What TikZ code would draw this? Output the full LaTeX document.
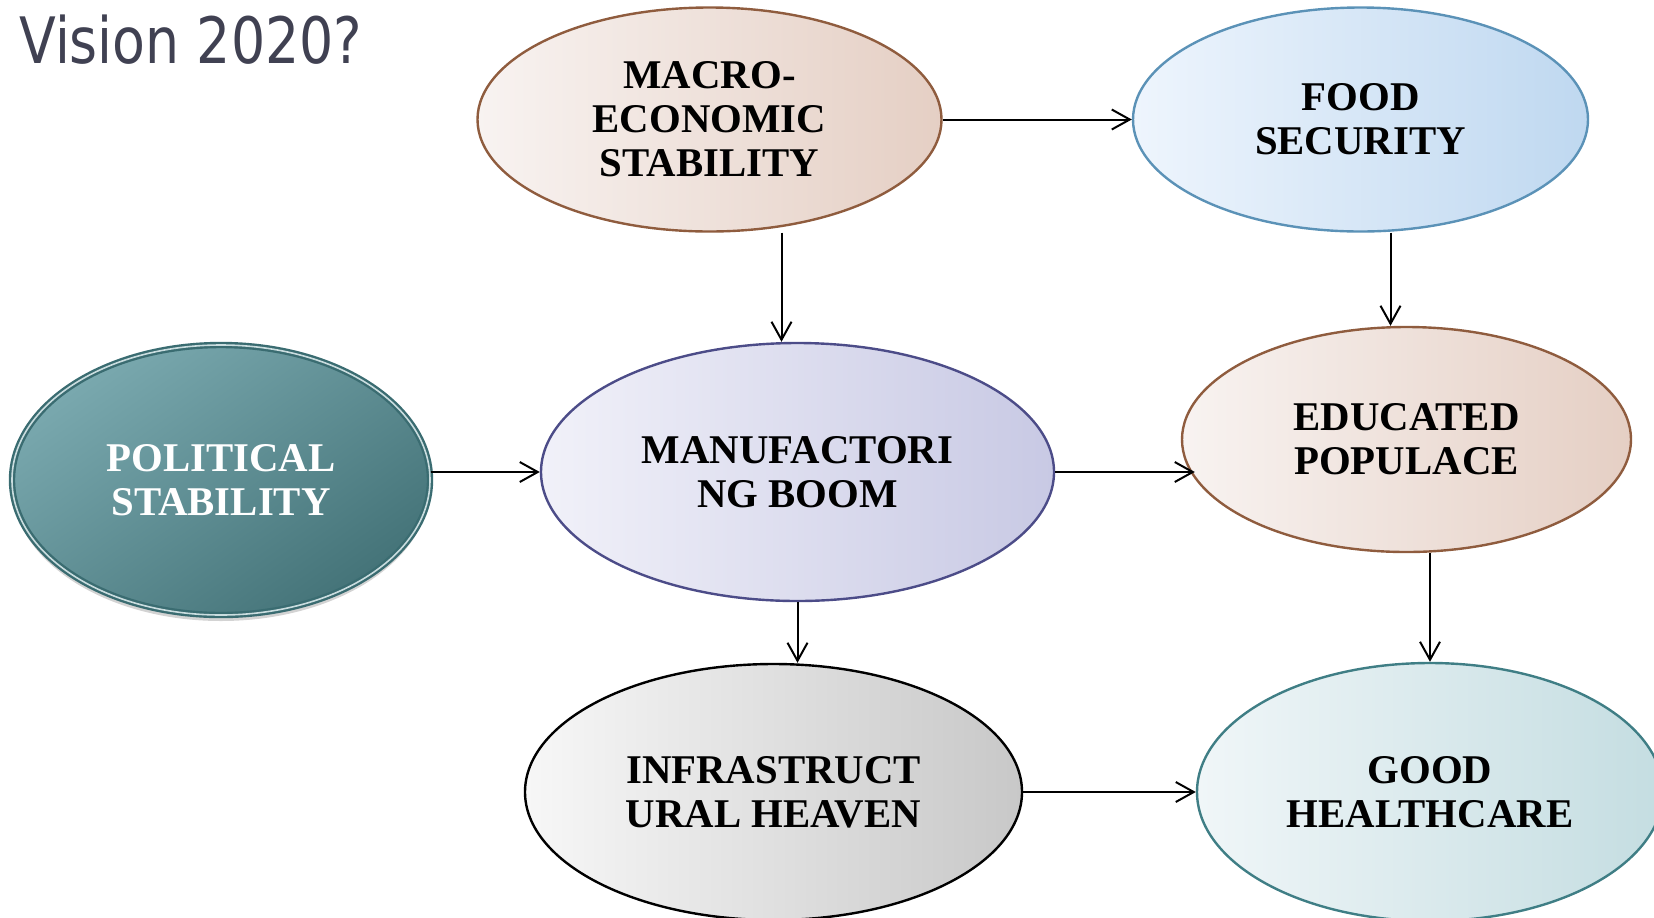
\documentclass[tikz,border=0pt]{standalone}
\usepackage{fontspec}
\setmainfont{Liberation Serif}
\newfontfamily\titlefont{DejaVu Sans}
\usetikzlibrary{shapes.geometric,arrows.meta,shadows}

\definecolor{titlegray}{RGB}{64,65,82}
\definecolor{macroL}{RGB}{248,243,241}
\definecolor{macroR}{RGB}{229,207,196}
\definecolor{macroB}{RGB}{143,92,62}
\definecolor{foodL}{RGB}{238,245,253}
\definecolor{foodR}{RGB}{191,216,240}
\definecolor{foodB}{RGB}{91,146,183}
\definecolor{manufL}{RGB}{241,241,249}
\definecolor{manufR}{RGB}{200,201,228}
\definecolor{manufB}{RGB}{76,76,136}
\definecolor{infraL}{RGB}{247,247,247}
\definecolor{infraR}{RGB}{200,200,200}
\definecolor{goodL}{RGB}{240,246,248}
\definecolor{goodR}{RGB}{196,221,225}
\definecolor{goodB}{RGB}{63,126,133}
\definecolor{politL}{RGB}{122,169,175}
\definecolor{politD}{RGB}{68,115,120}
\definecolor{politB}{RGB}{58,108,113}

\begin{document}
\begin{tikzpicture}[x=0.5pt, y=-0.5pt,
        >={Straight Barb[length=9pt,width=10pt]},
        bubble/.style={ellipse, inner sep=0pt, line width=1.2pt, align=center,
            font=\bfseries\fontsize{20.4}{22}\selectfont},
        link/.style={->, line width=1pt}]
        \useasboundingbox (0,0) rectangle (1654,917);
        \clip (0,0) rectangle (1654,917);

        % Title
        \node[anchor=base west, text=titlegray, inner sep=0pt] (title) at (19,63)
            {\scalebox{0.84}[1]{\titlefont\fontsize{32}{36}\selectfont Vision 2020?}};

        % Top row
        \node[bubble, draw=macroB, left color=macroL, right color=macroR,
            minimum width=232pt, minimum height=112pt] (macro) at (709.5,119.5)
            {MACRO-\\ECONOMIC\\STABILITY};
        \node[bubble, draw=foodB, left color=foodL, right color=foodR,
            minimum width=227.5pt, minimum height=112pt] (food) at (1360.5,119.5)
            {FOOD\\SECURITY};

        % Middle row
        \node[bubble, draw=politB, double=politL!40!white, double distance=0.8pt,
            top color=politL, bottom color=politD, shading angle=35, text=white,
            drop shadow={shadow xshift=0pt, shadow yshift=-3pt, opacity=0.35},
            minimum width=209pt, minimum height=135pt] (polit) at (221,480)
            {POLITICAL\\STABILITY};
        \node[bubble, draw=manufB, left color=manufL, right color=manufR,
            minimum width=256.5pt, minimum height=129pt] (manuf) at (797.5,472)
            {MANUFACTORI\\NG BOOM};
        \node[bubble, draw=macroB, left color=macroL, right color=macroR,
            minimum width=224.5pt, minimum height=112.5pt] (educ) at (1406.5,439.5)
            {EDUCATED\\POPULACE};

        % Bottom row
        \node[bubble, draw=black, left color=infraL, right color=infraR,
            minimum width=248.5pt, minimum height=128pt] (infra) at (773.5,792)
            {INFRASTRUCT\\URAL HEAVEN};
        \node[bubble, draw=goodB, left color=goodL, right color=goodR,
            minimum width=233pt, minimum height=129pt] (good) at (1430,792)
            {GOOD\\HEALTHCARE};

        % Links
        \draw[link] (macro) -- (food);
        \draw[link] ([xshift=36pt]macro.south) -- ([xshift=36pt]macro.south |- manuf.north);
        \draw[link] ([xshift=15pt]food.south) -- ([xshift=15pt]food.south |- educ.north);
        \draw[link] (polit.east |- manuf.west) -- (manuf.west);
        \draw[link] (manuf.east) -- ([xshift=7pt]manuf.east -| educ.west);
        \draw[link] (manuf.south) -- (manuf.south |- infra.north);
        \draw[link] (good.north |- educ.south) -- (good.north);
        \draw[link] (infra) -- (good);

    \end{tikzpicture}
\end{document}
